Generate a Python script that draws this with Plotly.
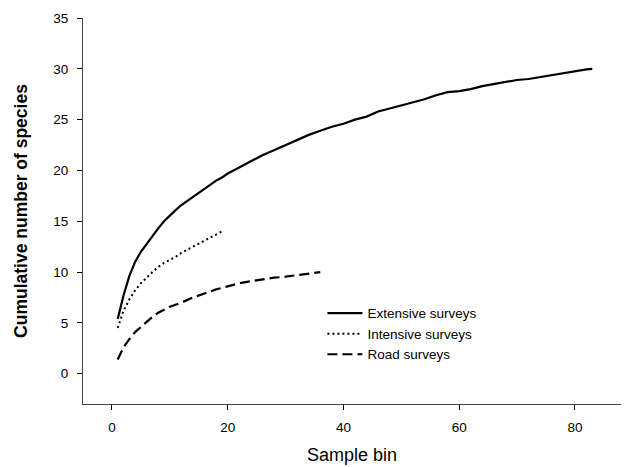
import plotly.graph_objects as go

# Extensive surveys
ext_x = [1, 2, 3, 4, 5, 6, 7, 8, 9, 10, 11, 12, 13, 14, 15, 16, 17, 18, 19, 20,
         22, 24, 26, 28, 30, 32, 34, 36, 38, 40, 42, 44, 46, 48, 50, 52, 54, 56,
         58, 60, 62, 64, 66, 68, 70, 72, 74, 76, 78, 80, 82, 83]
ext_y = [5.4, 7.7, 9.6, 11.0, 12.0, 12.8, 13.6, 14.3, 15.0, 15.6, 16.1, 16.6, 17.0,
         17.4, 17.8, 18.2, 18.6, 19.0, 19.3, 19.7,
         20.3, 20.9, 21.5, 22.0, 22.5, 23.0, 23.5, 23.9, 24.3, 24.6, 25.0, 25.3,
         25.8, 26.1, 26.4, 26.7, 27.0, 27.4, 27.7, 27.8, 28.0, 28.3, 28.5, 28.75,
         28.9, 29.0, 29.2, 29.4, 29.6, 29.8, 29.95, 30.0]

# Intensive surveys
int_x = [1, 2, 3, 4, 5, 6, 7, 8, 9, 10, 11, 12, 13, 14, 15, 16, 17, 18, 19]
int_y = [4.5, 6.2, 7.3, 8.2, 8.9, 9.5, 10.0, 10.5, 10.9, 11.2, 11.5, 11.9, 12.2,
         12.5, 12.8, 13.1, 13.4, 13.7, 14.0]

# Road surveys
road_x = [1, 2, 3, 4, 5, 6, 7, 8, 10, 12, 14, 16, 18, 20, 22, 24, 26, 28, 30, 32, 34, 36]
road_y = [1.4, 2.6, 3.4, 4.1, 4.6, 5.1, 5.6, 6.0, 6.6, 7.0, 7.5, 7.9, 8.3, 8.6,
          8.9, 9.1, 9.3, 9.45, 9.55, 9.7, 9.8, 10.0]

x_ticks = [0, 20, 40, 60, 80]
y_ticks = [0, 5, 10, 15, 20, 25, 30, 35]

FONT = "Liberation Sans, Arial, sans-serif"

fig = go.Figure()
fig.add_trace(go.Scatter(x=ext_x, y=ext_y, mode="lines", name="Extensive surveys",
                         line=dict(color="black", width=2.2)))
fig.add_trace(go.Scatter(x=int_x, y=int_y, mode="lines", name="Intensive surveys",
                         line=dict(color="black", width=2, dash="2px,3px")))
fig.add_trace(go.Scatter(x=road_x, y=road_y, mode="lines", name="Road surveys",
                         line=dict(color="black", width=2.2, dash="10px,5px")))

fig.update_layout(
    width=624, height=467,
    margin=dict(l=83, r=3, t=18, b=63, autoexpand=False),
    paper_bgcolor="white", plot_bgcolor="white",
    font=dict(family=FONT, color="black", size=14),
    showlegend=True,
    legend=dict(x=0.445, y=0.275, xanchor="left", yanchor="top",
                bgcolor="rgba(0,0,0,0)", font=dict(size=13.5, family=FONT),
                itemwidth=35, tracegroupgap=0),
    xaxis=dict(range=[-5.0, 87.96], tickvals=x_ticks, ticks="outside", ticklen=5,
               tickcolor="black", showline=True, linecolor="#444", linewidth=1,
               showgrid=False, zeroline=False, automargin=False, ticklabelstandoff=6,
               tickfont=dict(size=13.5, family=FONT),
               title=dict(text="Sample bin", font=dict(size=18, family=FONT), standoff=14)),
    yaxis=dict(range=[-2.975, 35], tickvals=y_ticks, ticks="outside", ticklen=5,
               tickcolor="black", showline=True, linecolor="#444", linewidth=1,
               showgrid=False, zeroline=False, automargin=False, ticklabelstandoff=6,
               tickfont=dict(size=13.5, family=FONT),
               title=dict(text="<b>Cumulative number of species</b>",
                          font=dict(size=17.5, family=FONT), standoff=21)),
)

fig.write_html(
    "out.html",
    config={"displayModeBar": False},
    post_script="document.body.style.margin='0px';document.body.style.padding='0px';"
                "document.documentElement.style.overflow='hidden';",
)
